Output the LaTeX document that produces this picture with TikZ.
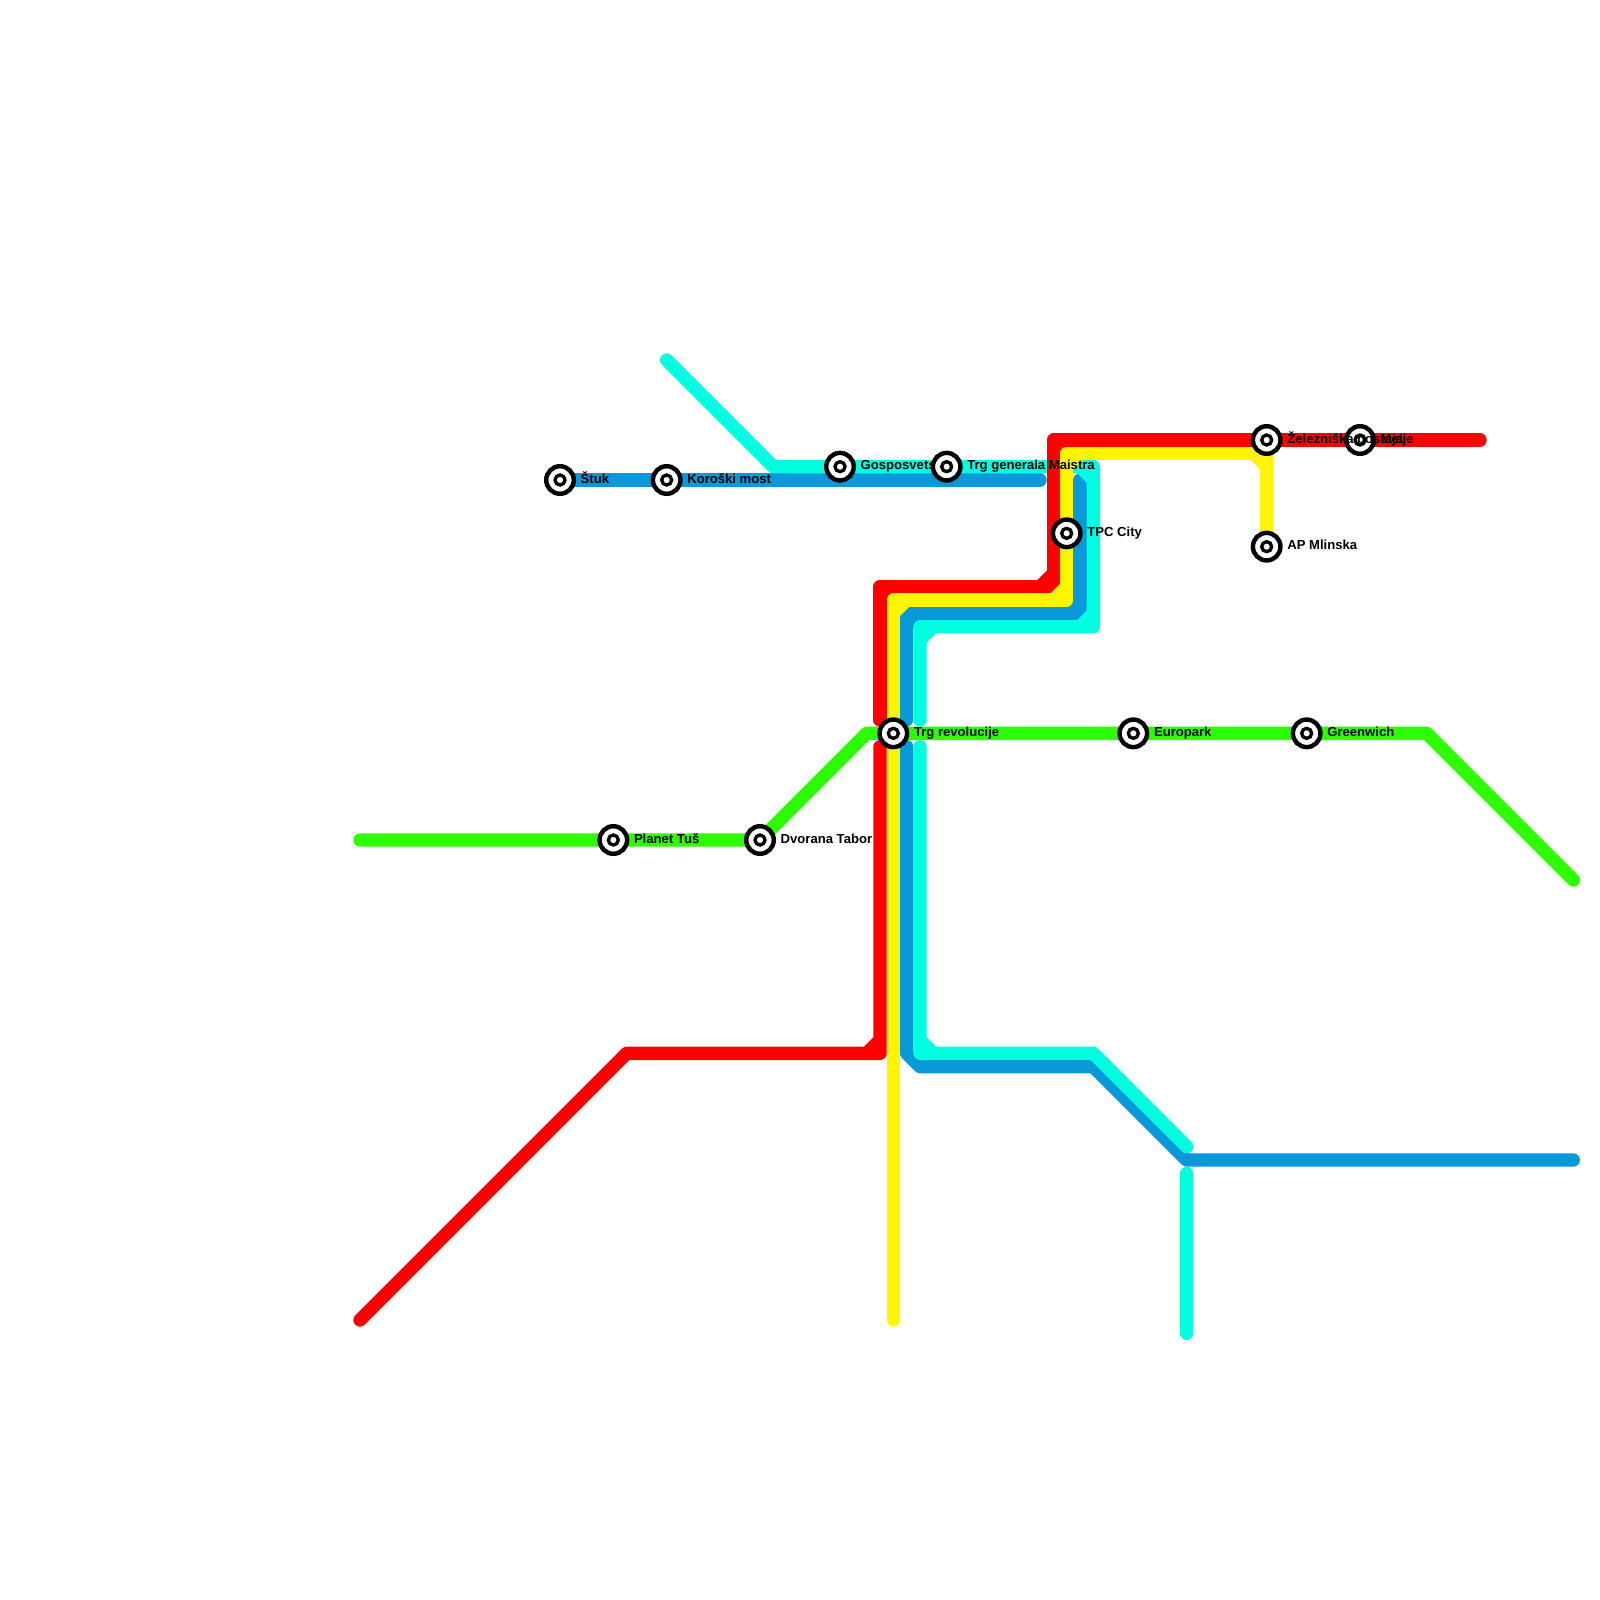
\documentclass[tikz,border=0pt]{standalone}
\usepackage{fontspec}
\setmainfont{Liberation Sans}
\definecolor{lred}{RGB}{255,0,0}
\definecolor{lyellow}{RGB}{255,245,0}
\definecolor{lblue}{RGB}{9,152,216}
\definecolor{lcyan}{RGB}{0,255,225}
\definecolor{lgreen}{RGB}{45,255,0}
\tikzset{
  route/.style={line width=13.333pt,line cap=round,line join=round},
  chamfer/.style={line width=13.333pt,line cap=butt},
  stn/.style={circle,draw=black,fill=white,line width=4.44pt,minimum size=27.56pt,inner sep=0pt,outer sep=0pt},
  stndot/.style={circle,draw=black,fill=white,line width=3.33pt,minimum size=10pt,inner sep=0pt,outer sep=0pt},
  lab/.style={anchor=base west,inner sep=0pt,outer sep=0pt,font=\fontsize{13.1}{13.1}\selectfont\bfseries,text=black}
}
\newcommand{\station}[3]{%
  \node[stn] (#1) at (#2) {};
  \node[stndot] (#1-dot) at (#2) {};
  \node[lab] (#1-label) at ([shift={(20.67pt,-3pt)}]#2) {#3};
}
\begin{document}
\begin{tikzpicture}[x=13.3333pt,y=-13.3333pt]
\useasboundingbox[fill=white] (0,0) rectangle (120,120);
% station positions
\coordinate (pStuk) at (42,36);
\coordinate (pKoroski) at (50,36);
\coordinate (pGosp) at (63,35);
\coordinate (pMaistra) at (71,35);
\coordinate (pTrg) at (67,55);
\coordinate (pTPC) at (80,40);
\coordinate (pZel) at (95,33);
\coordinate (pMelje) at (102,33);
\coordinate (pMlinska) at (95,41);
\coordinate (pEuropark) at (85,55);
\coordinate (pGreenwich) at (98,55);
\coordinate (pTus) at (46,63);
\coordinate (pTabor) at (57,63);
% green
\draw[route,lgreen] (27,63) -- (pTabor) -- (65,55) -- (107,55) -- (118,66);
% blue
\draw[route,lblue] (pStuk) -- (78,36);
\draw[route,lblue] (81,36) -- (81,46) -- (68,46) -- (68,54);
\draw[chamfer,lblue] (80,46) -- (81,45);
\draw[chamfer,lblue] (68,47) -- (69,46);
\draw[route,lblue] (68,56) -- (68,79) -- (69,80) -- (82,80) -- (89,87) -- (118,87);
% cyan
\draw[route,lcyan] (50,27) -- (58,35) -- (82,35) -- (82,47) -- (69,47) -- (69,54);
\draw[chamfer,lcyan] (81,35) -- (82,36);
\draw[chamfer,lcyan] (81,47) -- (82,46);
\draw[chamfer,lcyan] (69,48) -- (70,47);
\draw[route,lcyan] (69,56) -- (69,79) -- (82,79) -- (89,86);
\draw[chamfer,lcyan] (69,78) -- (70,79);
\draw[route,lcyan] (89,88) -- (89,100);
% red
\draw[route,lred] (27,99) -- (47,79) -- (66,79) -- (66,56);
\draw[chamfer,lred] (65,79) -- (66,78);
\draw[route,lred] (66,54) -- (66,44) -- (79,44) -- (79,33) -- (111,33);
\draw[chamfer,lred] (78,44) -- (79,43);
\draw[chamfer,lred] (66,45) -- (67,44);
\draw[chamfer,lred] (79,34) -- (80,33);
% yellow
\draw[route,lyellow] (67,99) -- (67,45) -- (80,45) -- (80,34) -- (95,34) -- (pMlinska);
\draw[chamfer,lyellow] (67,46) -- (68,45);
\draw[chamfer,lyellow] (79,45) -- (80,44);
\draw[chamfer,lyellow] (80,35) -- (81,34);
\draw[chamfer,lyellow] (94,34) -- (95,35);
% stations
\station{stuk}{pStuk}{Štuk}
\station{koroski}{pKoroski}{Koroški most}
\station{gosp}{pGosp}{Gosposvetska}
\station{maistra}{pMaistra}{Trg generala Maistra}
\station{melje}{pMelje}{Melje}
\station{zel}{pZel}{Železniška postaja}
\station{tpc}{pTPC}{TPC City}
\station{mlinska}{pMlinska}{AP Mlinska}
\station{trg}{pTrg}{Trg revolucije}
\station{europark}{pEuropark}{Europark}
\station{greenwich}{pGreenwich}{Greenwich}
\station{tus}{pTus}{Planet Tuš}
\station{tabor}{pTabor}{Dvorana Tabor}
\end{tikzpicture}
\end{document}
